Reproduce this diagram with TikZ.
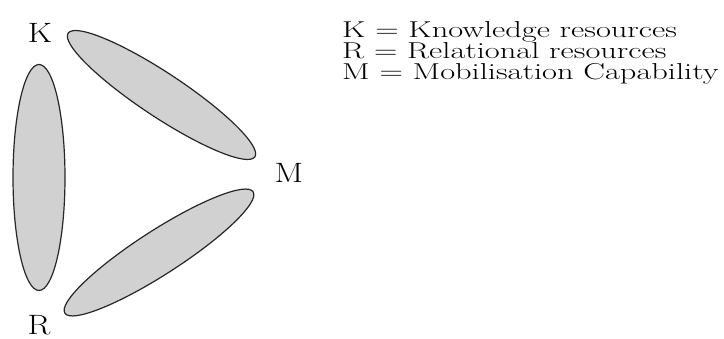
\documentclass[tikz,border=0pt]{standalone}
\usepackage{fontspec}
\begin{document}
\begin{tikzpicture}[x=1pt,y=1pt,
  blob/.style={draw=black!85,line width=1.2pt,fill=black!18},
  biglabel/.style={anchor=base,inner sep=0pt,font=\fontsize{28}{28}\selectfont},
  legend/.style={anchor=base west,inner sep=0pt,font=\fontsize{23}{23}\selectfont}]
\useasboundingbox (0,0) rectangle (724,338);
% ellipses
\draw[blob] (39,160.5) ellipse [x radius=26,y radius=113];
\draw[blob,rotate around={-33.5:(161.5,243)}] (161.5,243) ellipse [x radius=112,y radius=22];
\draw[blob,rotate around={32.8:(159,85.5)}] (159,85.5) ellipse [x radius=112,y radius=22];
% corner labels
\node[biglabel] (K) at (40,295.3) {\scalebox{1.2}[1]{K}};
\node[biglabel] (M) at (289,155) {\scalebox{1.2}[1]{M}};
\node[biglabel] (R) at (39,4) {\scalebox{1.2}[1]{R}};
% legend
\node[legend] (l1) at (342,300.7) {\scalebox{1.41}[1]{K = Knowledge resources}};
\node[legend] (l2) at (342,279.7) {\scalebox{1.41}[1]{R = Relational resources}};
\node[legend] (l3) at (342,258) {\scalebox{1.41}[1]{M = Mobilisation Capability}};
\end{tikzpicture}
\end{document}
